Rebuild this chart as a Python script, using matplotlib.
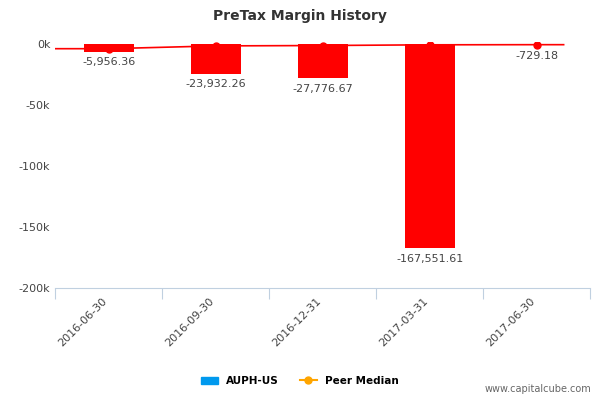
import matplotlib
matplotlib.use("Agg")
import matplotlib.pyplot as plt
from matplotlib.lines import Line2D
from matplotlib.patches import Patch

dates = ["2016-06-30", "2016-09-30", "2016-12-31", "2017-03-31", "2017-06-30"]
margins = [-5956.36, -23932.26, -27776.67, -167551.61, -729.18]
peer_median = [-3500, -1200, -900, -300, -200]
yticks = [0, -50000, -100000, -150000, -200000]
ytick_labels = ["0k", "-50k", "-100k", "-150k", "-200k"]

fig = plt.figure(figsize=(6, 4), dpi=100)
ax = fig.add_axes([0.092, 0.28, 0.892, 0.615])

x = list(range(len(dates)))
ax.bar(x, margins, width=0.47, color="#ff0000", zorder=2)
ax.plot([-0.5] + x + [4.25], [peer_median[0]] + peer_median + [peer_median[-1]],
        color="#ff0000", lw=1.2, zorder=3)
ax.plot(x, peer_median, "o", color="#ff0000", ms=5, zorder=4)

for xi, v in zip(x, margins):
    ax.text(xi, v - 4500, f"{v:,.2f}", ha="center", va="top", fontsize=8, color="#444444")

ax.set_xlim(-0.5, 4.5)
ax.set_ylim(-200000, 2000)
ax.set_yticks(yticks)
ax.set_yticklabels(ytick_labels, fontsize=8, color="#444444")
ax.set_xticks([i - 0.5 for i in range(6)], minor=False)
ax.set_xticklabels([""] * 6)
ax.set_xticks(x, minor=True)
ax.set_xticklabels(dates, minor=True, rotation=45, ha="right", fontsize=8, color="#444444")
ax.tick_params(axis="x", which="major", length=8, color="#c0d0e0")
ax.tick_params(axis="x", which="minor", length=0, pad=6)
ax.tick_params(axis="y", length=0)
for s in ["top", "right", "left"]:
    ax.spines[s].set_visible(False)
ax.spines["bottom"].set_color("#c0d0e0")

fig.text(0.5, 0.96, "PreTax Margin History", ha="center", va="center",
         fontsize=10, fontweight="bold", color="#333333")

handles = [Patch(color="#0099ee"),
           Line2D([0], [0], color="#ffa500", marker="o", ms=5, lw=1.5)]
fig.legend(handles, ["AUPH-US", "Peer Median"], loc="center", bbox_to_anchor=(0.5, 0.048),
           ncol=2, frameon=False, prop={"size": 7.5, "weight": "bold"}, handlelength=1.6)
fig.text(0.985, 0.02, "www.capitalcube.com", ha="right", fontsize=7, color="#666666")

fig.savefig("out.png")
